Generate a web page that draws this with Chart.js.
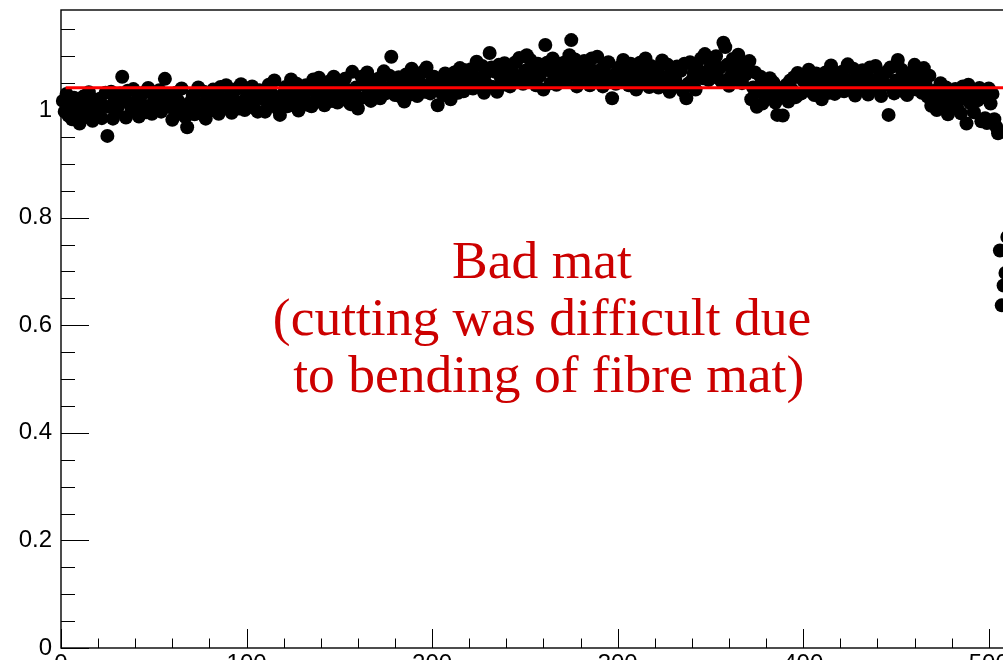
<!DOCTYPE html>
<html>
<head>
<meta charset="utf-8">
<script src="https://cdn.jsdelivr.net/npm/chart.js@4/dist/chart.umd.min.js"></script>
<style>
  html, body { margin:0; padding:0; background:#fff; overflow:hidden; width:1003px; height:660px; }
  canvas { display:block; }
</style>
</head>
<body>
<canvas id="c" width="1060" height="700"></canvas>
<script>
// ---- data ----
const firstChannel = 1;
const ratio = [
  1.017, 0.997, 1.030, 0.990, 1.008, 0.983, 1.023, 1.000, 1.014, 0.975,
  0.993, 1.025, 1.011, 0.987, 1.033, 1.002, 0.980, 1.019, 0.996, 1.009,
  1.021, 0.985, 1.007, 1.032, 0.952, 1.006, 1.034, 0.984, 1.020, 0.998,
  1.008, 1.031, 1.062, 1.023, 0.986, 1.036, 1.013, 0.999, 1.039, 1.005,
  1.019, 0.988, 1.027, 1.010, 1.033, 0.996, 1.041, 1.002, 0.993, 1.017,
  1.024, 1.004, 1.037, 0.997, 1.015, 1.058, 1.030, 1.007, 1.021, 0.982,
  1.000, 1.032, 1.018, 0.994, 1.040, 1.009, 0.987, 0.968, 1.003, 1.016,
  1.028, 0.992, 1.014, 1.042, 1.001, 1.006, 1.034, 0.984, 1.020, 0.998,
  1.015, 1.038, 1.002, 1.030, 0.993, 1.043, 1.020, 1.006, 1.046, 1.012,
  1.026, 0.995, 1.034, 1.017, 1.040, 1.003, 1.048, 1.009, 1.000, 1.024,
  1.031, 1.011, 1.044, 1.004, 1.022, 0.997, 1.037, 1.022, 1.036, 0.997,
  1.015, 1.047, 1.033, 1.009, 1.055, 1.024, 1.002, 0.991, 1.018, 1.031,
  1.043, 1.007, 1.029, 1.057, 1.016, 1.021, 1.049, 0.999, 1.035, 1.013,
  1.023, 1.046, 1.010, 1.038, 1.007, 1.057, 1.034, 1.020, 1.060, 1.026,
  1.040, 1.009, 1.048, 1.031, 1.054, 1.017, 1.062, 1.023, 1.014, 1.038,
  1.045, 1.025, 1.058, 1.018, 1.036, 1.011, 1.071, 1.028, 1.042, 1.003,
  1.021, 1.062, 1.048, 1.024, 1.070, 1.039, 1.017, 1.056, 1.033, 1.046,
  1.058, 1.022, 1.044, 1.072, 1.031, 1.036, 1.064, 1.099, 1.050, 1.028,
  1.038, 1.061, 1.025, 1.053, 1.016, 1.066, 1.043, 1.029, 1.077, 1.043,
  1.057, 1.026, 1.065, 1.048, 1.071, 1.034, 1.079, 1.040, 1.031, 1.055,
  1.062, 1.042, 1.009, 1.035, 1.053, 1.028, 1.068, 1.045, 1.059, 1.020,
  1.038, 1.070, 1.056, 1.032, 1.078, 1.057, 1.035, 1.074, 1.051, 1.064,
  1.076, 1.040, 1.062, 1.090, 1.049, 1.054, 1.082, 1.032, 1.068, 1.046,
  1.106, 1.079, 1.043, 1.071, 1.034, 1.084, 1.061, 1.047, 1.087, 1.053,
  1.075, 1.044, 1.083, 1.066, 1.089, 1.052, 1.097, 1.058, 1.049, 1.073,
  1.102, 1.060, 1.093, 1.053, 1.071, 1.046, 1.086, 1.063, 1.077, 1.038,
  1.121, 1.088, 1.074, 1.050, 1.096, 1.065, 1.047, 1.086, 1.063, 1.076,
  1.088, 1.052, 1.074, 1.102, 1.130, 1.066, 1.094, 1.044, 1.080, 1.058,
  1.068, 1.091, 1.055, 1.083, 1.046, 1.096, 1.073, 1.059, 1.099, 1.065,
  1.075, 1.044, 1.083, 1.066, 1.089, 1.052, 1.022, 1.058, 1.049, 1.073,
  1.080, 1.060, 1.093, 1.053, 1.071, 1.046, 1.086, 1.063, 1.077, 1.038,
  1.056, 1.088, 1.074, 1.050, 1.096, 1.065, 1.043, 1.082, 1.053, 1.066,
  1.078, 1.042, 1.064, 1.092, 1.051, 1.056, 1.084, 1.034, 1.070, 1.048,
  1.058, 1.081, 1.045, 1.073, 1.036, 1.086, 1.022, 1.049, 1.089, 1.055,
  1.069, 1.038, 1.077, 1.060, 1.096, 1.059, 1.104, 1.065, 1.056, 1.080,
  1.087, 1.067, 1.100, 1.060, 1.078, 1.053, 1.125, 1.117, 1.084, 1.045,
  1.063, 1.095, 1.081, 1.057, 1.103, 1.072, 1.050, 1.089, 1.066, 1.079,
  1.091, 1.020, 1.042, 1.070, 1.006, 1.034, 1.062, 1.012, 1.048, 1.026,
  1.036, 1.059, 1.023, 1.051, 1.014, 0.991, 1.041, 1.027, 0.990, 1.033,
  1.047, 1.016, 1.055, 1.038, 1.061, 1.024, 1.069, 1.030, 1.031, 1.055,
  1.062, 1.042, 1.075, 1.035, 1.053, 1.028, 1.068, 1.045, 1.059, 1.020,
  1.038, 1.070, 1.056, 1.032, 1.083, 1.052, 1.030, 1.069, 1.046, 1.059,
  1.071, 1.035, 1.057, 1.085, 1.044, 1.049, 1.077, 1.027, 1.063, 1.041,
  1.051, 1.074, 1.038, 1.066, 1.029, 1.079, 1.056, 1.042, 1.082, 1.048,
  1.062, 1.026, 1.065, 1.048, 1.071, 0.991, 1.079, 1.040, 1.031, 1.055,
  1.093, 1.042, 1.075, 1.035, 1.053, 1.028, 1.068, 1.045, 1.059, 1.084,
  1.038, 1.070, 1.056, 1.032, 1.078, 1.047, 1.025, 1.064, 1.008, 1.024,
  1.036, 1.000, 1.022, 1.050, 1.009, 1.014, 1.042, 0.992, 1.028, 1.006,
  1.016, 1.039, 1.003, 1.031, 0.994, 1.044, 1.021, 0.975, 1.047, 1.013,
  1.027, 0.996, 1.035, 1.018, 1.041, 0.979, 1.024, 0.985, 0.976, 1.040,
  1.012, 1.030, 0.983, 0.969, 0.957, 0.739, 0.637, 0.674, 0.697, 0.764
];
const fitValue = 1.0415;
const fitRange = [2.5, 533];

const xMin = 0, xMax = 533;
const yMin = 0, yMax = 1.186;
const xTickValues = [0, 100, 200, 300, 400, 500];
const xTickLabels = ['0', '100', '200', '300', '400', '500'];
const xMinorStep = 20;
const yTickValues = [0, 0.2, 0.4, 0.6, 0.8, 1.0];
const yTickLabels = ['0', '0.2', '0.4', '0.6', '0.8', '1'];
const yMinorStep = 0.05;

const annotationLines = ['Bad mat', '(cutting was difficult due', ' to bending of fibre mat)'];

// ---- build ----
const points = ratio.map((v, i) => ({ x: firstChannel + i, y: v }));
const fitPoints = fitRange.map(x => ({ x: x, y: fitValue }));

const frameTicks = {
  id: 'frameTicks',
  afterDatasetsDraw(chart) {
    const { ctx, chartArea: a, scales: { x, y } } = chart;
    ctx.save();
    ctx.strokeStyle = '#000';
    ctx.lineWidth = 1.4;
    ctx.strokeRect(a.left, a.top, a.right - a.left, a.bottom - a.top);
    ctx.lineWidth = 1;
    ctx.beginPath();
    for (let v = xMin; v <= xMax + 1e-9; v += xMinorStep) {
      const px = Math.round(x.getPixelForValue(v)) + 0.5;
      const major = xTickValues.some(t => Math.abs(t - v) < 1e-9);
      ctx.moveTo(px, a.bottom);
      ctx.lineTo(px, a.bottom - (major ? 19 : 9.5));
    }
    for (let k = 0; k * yMinorStep <= yMax + 1e-9; k++) {
      const v = k * yMinorStep;
      const py = Math.round(y.getPixelForValue(v)) + 0.5;
      const major = yTickValues.some(t => Math.abs(t - v) < 1e-9);
      ctx.moveTo(a.left, py);
      ctx.lineTo(a.left + (major ? 28 : 14), py);
    }
    ctx.stroke();
    ctx.restore();
  }
};

const annotation = {
  id: 'annotation',
  afterDraw(chart) {
    const ctx = chart.ctx;
    ctx.save();
    ctx.font = '100px "Liberation Serif"';
    const w = ctx.measureText(annotationLines[1]).width;
    const size = 100 * 538 / w;
    ctx.font = size.toFixed(1) + 'px "Liberation Serif"';
    ctx.fillStyle = '#cc0000';
    ctx.textAlign = 'center';
    ctx.textBaseline = 'alphabetic';
    const baselines = [278, 335, 392];
    const cx = 542;
    annotationLines.forEach((t, i) => ctx.fillText(t, cx, baselines[i]));
    ctx.restore();
  }
};

new Chart(document.getElementById('c'), {
  type: 'scatter',
  data: {
    datasets: [
      {
        data: fitPoints, showLine: true, borderColor: '#ff0000', borderWidth: 3,
        pointRadius: 0, order: 0, clip: false
      },
      {
        data: points, backgroundColor: '#000000', borderWidth: 0,
        pointRadius: 7, order: 1, clip: false
      }
    ]
  },
  options: {
    responsive: false,
    animation: false,
    devicePixelRatio: 1,
    events: [],
    layout: { padding: { top: 10, right: 10, left: 0, bottom: 0 } },
    plugins: { legend: { display: false }, tooltip: { enabled: false } },
    scales: {
      x: {
        type: 'linear', min: xMin, max: xMax,
        grid: { display: false, drawTicks: false },
        border: { display: false },
        afterBuildTicks: s => { s.ticks = xTickValues.map(v => ({ value: v })); },
        afterFit: s => { s.height = 52; s.paddingLeft = 0; s.paddingRight = 0; },
        ticks: {
          autoSkip: false, maxRotation: 0, padding: 2, color: '#000',
          font: { family: '"Liberation Sans", Arial, sans-serif', size: 24 },
          callback: (v, i) => xTickLabels[i]
        }
      },
      y: {
        type: 'linear', min: yMin, max: yMax,
        grid: { display: false, drawTicks: false },
        border: { display: false },
        afterBuildTicks: s => { s.ticks = yTickValues.map(v => ({ value: v })); },
        afterFit: s => { s.width = 61; s.paddingTop = 0; s.paddingBottom = 0; },
        ticks: {
          autoSkip: false, padding: 9, color: '#000',
          font: { family: '"Liberation Sans", Arial, sans-serif', size: 24 },
          callback: (v, i) => yTickLabels[i]
        }
      }
    }
  },
  plugins: [frameTicks, annotation]
});
</script>
</body>
</html>
